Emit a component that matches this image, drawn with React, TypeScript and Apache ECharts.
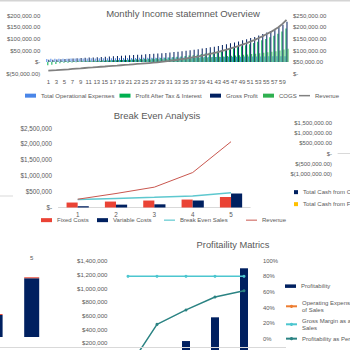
import React, { useEffect, useRef } from "react";
import * as echarts from "echarts";

const FONT = "'Liberation Sans', Arial, sans-serif";
const TXT = "#595959";

// ---------- Monthly Income statement Overview (values in $ thousands) ----------
const monthLabels = Array.from({ length: 60 }, (_, i) => String(i + 1));
const revenue = [13, 14, 15, 16.5, 18, 19, 20.5, 22, 23, 24.5, 26, 27, 28.5, 30, 31, 32.5, 34, 35, 36.5, 38, 39, 40.5, 42, 43, 44.5, 46, 47.5, 49, 51, 53, 55, 57.5, 60, 62.5, 65, 68, 71, 74, 77.5, 81, 85, 89, 93, 98, 103, 108, 113, 119, 125, 131, 138, 145, 153, 161, 170, 179, 189, 200, 215, 232];
const cogs = [3.3, 3.5, 3.8, 4.1, 4.5, 4.8, 5.1, 5.5, 5.8, 6.1, 6.5, 6.8, 7.1, 7.5, 7.8, 8.1, 8.5, 8.8, 9.1, 9.5, 9.8, 10.1, 10.5, 10.8, 11.1, 11.5, 11.9, 12.3, 12.8, 13.3, 13.8, 14.4, 15, 15.6, 16.3, 17, 17.8, 18.5, 19.4, 20.3, 21.3, 22.3, 23.3, 24.5, 25.8, 27, 28.3, 29.8, 31.3, 32.8, 34.5, 36.3, 38.3, 40.3, 42.5, 44.8, 47.3, 50, 53.8, 58];
const grossProfit = [9.7, 10.5, 11.2, 12.4, 13.5, 14.2, 15.4, 16.5, 17.2, 18.4, 19.5, 20.2, 21.4, 22.5, 23.2, 24.4, 25.5, 26.2, 27.4, 28.5, 29.2, 30.4, 31.5, 32.2, 33.4, 34.5, 35.6, 36.7, 38.2, 39.7, 41.2, 43.1, 45, 46.9, 48.7, 51, 53.2, 55.5, 58.1, 60.7, 63.7, 66.7, 69.7, 73.5, 77.2, 81, 84.7, 89.2, 93.7, 98.2, 103.5, 108.7, 114.7, 120.7, 127.5, 134.2, 141.7, 150, 161.2, 174];
const operationalExpenses = [13.8, 14.1, 14.3, 14.2, 14.6, 14.9, 15.1, 15.0, 15.4, 15.6, 15.9, 16.2, 16.0, 16.4, 16.7, 16.9, 17.1, 17.0, 17.4, 17.6, 17.9, 18.1, 18.0, 18.4, 18.6, 18.9, 19.1, 19.0, 19.4, 19.6, 19.9, 20.1, 20.0, 20.4, 20.6, 20.9, 21.1, 21.0, 21.4, 21.6, 21.9, 22.1, 22.0, 22.4, 22.6, 22.9, 23.1, 23.0, 23.4, 23.6, 23.9, 24.1, 24.0, 24.4, 24.6, 24.9, 25.1, 25.0, 25.4, 25.6];
const profitAfterTax = [-14, -11, -8, -5, -3, -2.5, -1.5, -0.5, 0.5, 1.5, 2.5, 3, 4, 5, 5.5, 6.5, 7.5, 8, 9, 10, 10.5, 11.5, 12.5, 13, 14, 14.5, 15.5, 16.5, 17.5, 19, 20, 21.5, 23, 24.5, 26, 28, 30, 32, 34.5, 37, 40, 42.5, 45.5, 49, 52.5, 56, 59.5, 64, 68, 72.5, 77, 82.5, 88, 94, 100, 107, 114, 122, 132, 145];

// ---------- Break Even Analysis ($ thousands) ----------
const beYears = ["1", "2", "3", "4", "5"];
const fixedCosts = [156, 187, 219, 250, 330];
const variableCosts = [40, 90, 100, 220, 440];
const breakEvenSales = [250, 285, 320, 360, 460];
const beRevenue = [260, 440, 640, 1100, 2070];

// ---------- Cash flow (partially visible, $ thousands) ----------
const cashYears = ["1", "2", "3", "4", "5"];
const cashOperating = [0, 0, 0, 0, 0];
const cashFinancing = [0, 0, 0, 0, 0];

// ---------- Partially visible bar chart at bottom left ----------
const partYears = ["1", "2", "3", "4", "5"];
const partMain = [150, 200, 250, 301, 804];
const partTop = [14, 14, 14, 14, 14];

// ---------- Profitability Matrics ----------
const profYears = ["1", "2", "3", "4", "5"];
const profitability = [-150, 60, 225, 572, 1289]; // $ thousands
const opexPct = [null, null, null, null, null];
const grossMarginPct = [80, 80, 80, 80, 80];
const profitPct = [-38, 18.5, 37, 53.5, 61.5];

function acct(vK: number, dec: number): string {
  const v = Math.round(vK * 1000);
  if (v === 0) return "$-";
  const s = Math.abs(v).toLocaleString("en-US", { minimumFractionDigits: dec, maximumFractionDigits: dec });
  return v < 0 ? `$(${s})` : `$${s}`;
}

const lbl = (size: number, extra: any = {}) => ({ fontSize: size, color: TXT, fontFamily: FONT, ...extra });

function legendItem(name: string, left: number, top: number, opts: any = {}) {
  return {
    data: [opts.item ? { name, ...opts.item } : name],
    left,
    top,
    padding: 0,
    itemGap: 0,
    itemWidth: opts.w ?? 11,
    itemHeight: opts.h ?? 4,
    icon: opts.icon,
    selectedMode: false,
    textStyle: { fontSize: 6, color: TXT, fontFamily: FONT, lineHeight: 7.3 },
  };
}

const hiddenAxisParts = { axisTick: { show: false }, splitLine: { show: false } };
const gridBase = { outerBoundsMode: "none", containLabel: false };

const option: any = {
  animation: false,
  backgroundColor: "#ffffff",
  title: [
    { text: "Monthly Income statemnet Overview", left: 183, top: 8.5, textAlign: "center", padding: 0, textStyle: { fontSize: 9.5, fontWeight: "normal", color: TXT, fontFamily: FONT } },
    { text: "Break Even Analysis", left: 157, top: 110.5, textAlign: "center", padding: 0, textStyle: { fontSize: 9.5, fontWeight: "normal", color: TXT, fontFamily: FONT } },
    { text: "Profitaility Matrics", left: 233, top: 240.5, textAlign: "center", padding: 0, textStyle: { fontSize: 9.3, fontWeight: "normal", color: TXT, fontFamily: FONT } },
  ],
  graphic: [
    { type: "rect", shape: { x: 0, y: 0, width: 350, height: 1.5 }, style: { fill: "#d4d4d4" }, silent: true },
    { type: "line", shape: { x1: 0, y1: 196, x2: 13, y2: 196 }, style: { stroke: "#d9d9d9", lineWidth: 1 }, silent: true },
    { type: "line", shape: { x1: 0, y1: 347.5, x2: 286, y2: 347.5 }, style: { stroke: "#d9d9d9", lineWidth: 1 }, silent: true, z: 10 },
  ],
  legend: [
    legendItem("Total Operational Expenses", 25, 92, { icon: "rect" }),
    legendItem("Profit After Tax & Interest", 119.5, 92, { icon: "rect" }),
    legendItem("Gross Profit", 210, 92, { icon: "rect" }),
    legendItem("COGS", 263, 92, { icon: "rect" }),
    legendItem("Revenue", 299, 92, { icon: "rect", h: 1.5, item: { itemStyle: { color: "#808080" } } }),

    legendItem("Fixed Costs", 41, 216.5, { icon: "rect" }),
    legendItem("Variable Costs", 97, 216.5, { icon: "rect" }),
    legendItem("Break Even Sales", 164, 216.5, { icon: "rect", h: 1.2 }),
    legendItem("Revenue", 246, 216.5, { icon: "rect", h: 1, item: { itemStyle: { color: "#c9574f" } } }),

    legendItem("Total Cash from Operating Activities", 294, 188.5, { icon: "rect", w: 4, h: 4 }),
    legendItem("Total Cash from Financing Activities", 294, 200.5, { icon: "rect", w: 4, h: 4 }),

    legendItem("Profitability", 285, 282.5, { icon: "rect", h: 3.5 }),
    legendItem("Operating Expenses as %\nof Sales", 285, 299, {}),
    legendItem("Gross Margin as a % of\nSales", 285, 317, {}),
    legendItem("Profitability as Percentage", 285, 335, {}),
  ],
  grid: [
    { ...gridBase, left: 46.3, right: 61.5, top: 15.7, height: 58 },
    { ...gridBase, left: 58.5, right: 99.8, top: 128, height: 79.5 },
    { ...gridBase, left: 338, right: -88, top: 123, height: 51 },
    { ...gridBase, left: -133, right: 300, top: 264, height: 73 },
    { ...gridBase, left: 113.5, right: 91.5, top: 260.7, height: 109.4 },
  ],
  xAxis: [
    { type: "category", gridIndex: 0, data: monthLabels, axisLine: { show: false, onZero: false }, axisTick: { show: false }, axisLabel: lbl(6, { interval: 1, margin: 5 }) },
    { type: "category", gridIndex: 1, data: beYears, axisLine: { lineStyle: { color: "#d9d9d9" } }, axisTick: { show: false }, axisLabel: lbl(6.3, { margin: 3.5 }) },
    { type: "category", gridIndex: 2, data: cashYears, axisLine: { lineStyle: { color: "#d9d9d9" } }, axisTick: { show: false }, axisLabel: { show: false } },
    { type: "category", gridIndex: 3, position: "top", data: partYears, axisLine: { show: false }, axisTick: { show: false }, axisLabel: lbl(6, { margin: 3, formatter: (v: string, i: number) => (i >= 4 ? v : "") }) },
    { type: "category", gridIndex: 4, data: profYears, axisLine: { show: false }, axisTick: { show: false }, axisLabel: { show: false } },
  ],
  yAxis: [
    { type: "value", gridIndex: 0, min: -50, max: 200, interval: 50, axisLine: { show: false }, ...hiddenAxisParts, axisLabel: lbl(6, { margin: 6, formatter: (v: number) => acct(v, 2) }) },
    { type: "value", gridIndex: 0, position: "right", min: 0, max: 250, interval: 50, axisLine: { show: false }, ...hiddenAxisParts, axisLabel: lbl(6, { margin: 4.5, formatter: (v: number) => acct(v, 2) }) },
    { type: "value", gridIndex: 1, min: 0, max: 2500, interval: 500, axisLine: { show: false }, ...hiddenAxisParts, axisLabel: lbl(6.3, { margin: 6.5, formatter: (v: number) => acct(v, 0) }) },
    { type: "value", gridIndex: 2, min: -1000, max: 1500, interval: 500, axisLine: { show: false }, ...hiddenAxisParts, axisLabel: lbl(5.9, { margin: 6, formatter: (v: number) => acct(v, 2) }) },
    { type: "value", gridIndex: 3, min: 0, max: 1000, show: false },
    { type: "value", gridIndex: 4, min: -200, max: 1400, interval: 200, axisLine: { show: false }, ...hiddenAxisParts, axisLabel: lbl(6.1, { margin: 6, formatter: (v: number) => (v >= 200 ? acct(v, 0) : "") }) },
    { type: "value", gridIndex: 4, position: "right", min: -40, max: 100, interval: 20, axisLine: { show: false }, ...hiddenAxisParts, axisLabel: lbl(5.9, { margin: 4.5, formatter: (v: number) => (v >= 0 ? `${v}%` : "") }) },
  ],
  series: [
    { name: "Total Operational Expenses", type: "bar", xAxisIndex: 0, yAxisIndex: 0, data: operationalExpenses, itemStyle: { color: "#4a86e8" }, barGap: "0%", barCategoryGap: "25%" },
    { name: "Profit After Tax & Interest", type: "bar", xAxisIndex: 0, yAxisIndex: 0, data: profitAfterTax, itemStyle: { color: "#00b050" }, barGap: "0%", barCategoryGap: "25%" },
    { name: "Gross Profit", type: "bar", xAxisIndex: 0, yAxisIndex: 0, data: grossProfit, itemStyle: { color: "#002060" }, barGap: "0%", barCategoryGap: "25%" },
    { name: "COGS", type: "bar", xAxisIndex: 0, yAxisIndex: 0, data: cogs, itemStyle: { color: "#2fb050" }, barGap: "0%", barCategoryGap: "25%" },
    { name: "Revenue", type: "line", xAxisIndex: 0, yAxisIndex: 1, data: revenue, symbol: "none", lineStyle: { color: "#808080", width: 1.8 }, itemStyle: { color: "#808080" }, z: 5 },

    { name: "Fixed Costs", type: "bar", xAxisIndex: 1, yAxisIndex: 2, data: fixedCosts, itemStyle: { color: "#ea4335" }, barGap: "0%", barCategoryGap: "42%" },
    { name: "Variable Costs", type: "bar", xAxisIndex: 1, yAxisIndex: 2, data: variableCosts, itemStyle: { color: "#002060" }, barGap: "0%", barCategoryGap: "42%" },
    { name: "Break Even Sales", type: "line", xAxisIndex: 1, yAxisIndex: 2, data: breakEvenSales, symbol: "none", lineStyle: { color: "#5ec8cf", width: 1.5 }, itemStyle: { color: "#5ec8cf" }, z: 5 },
    { name: "Revenue", type: "line", xAxisIndex: 1, yAxisIndex: 2, data: beRevenue, symbol: "none", lineStyle: { color: "#c9574f", width: 1 }, itemStyle: { color: "#c9574f" }, z: 5 },

    { name: "Total Cash from Operating Activities", type: "bar", xAxisIndex: 2, yAxisIndex: 3, data: cashOperating, itemStyle: { color: "#002060" } },
    { name: "Total Cash from Financing Activities", type: "bar", xAxisIndex: 2, yAxisIndex: 3, data: cashFinancing, itemStyle: { color: "#ffc000" } },

    { name: "Series1", type: "bar", xAxisIndex: 3, yAxisIndex: 4, stack: "p", data: partMain, itemStyle: { color: "#002060" }, barCategoryGap: "59%" },
    { name: "Series2", type: "bar", xAxisIndex: 3, yAxisIndex: 4, stack: "p", data: partTop, itemStyle: { color: "#e8503f" }, barCategoryGap: "59%" },

    { name: "Profitability", type: "bar", xAxisIndex: 4, yAxisIndex: 5, data: profitability, itemStyle: { color: "#002060" }, barWidth: 8 },
    { name: "Operating Expenses as %\nof Sales", type: "line", xAxisIndex: 4, yAxisIndex: 6, data: opexPct, symbol: "circle", symbolSize: 3, lineStyle: { color: "#ed7d31", width: 1.5 }, itemStyle: { color: "#ed7d31" } },
    { name: "Gross Margin as a % of\nSales", type: "line", xAxisIndex: 4, yAxisIndex: 6, data: grossMarginPct, symbol: "circle", symbolSize: 3, lineStyle: { color: "#4cc6cf", width: 1.5 }, itemStyle: { color: "#4cc6cf" } },
    { name: "Profitability as Percentage", type: "line", xAxisIndex: 4, yAxisIndex: 6, data: profitPct, symbol: "circle", symbolSize: 3, lineStyle: { color: "#2b8383", width: 1.5 }, itemStyle: { color: "#2b8383" } },
  ],
};

export default function App() {
  const ref = useRef<HTMLDivElement>(null);
  useEffect(() => {
    const chart = echarts.init(ref.current as HTMLDivElement, null, { renderer: "svg" });
    chart.setOption(option);
    return () => chart.dispose();
  }, []);
  return (
    <div
      ref={ref}
      style={{ position: "fixed", left: 0, top: 0, width: 350, height: 350, background: "#fff" }}
    />
  );
}
